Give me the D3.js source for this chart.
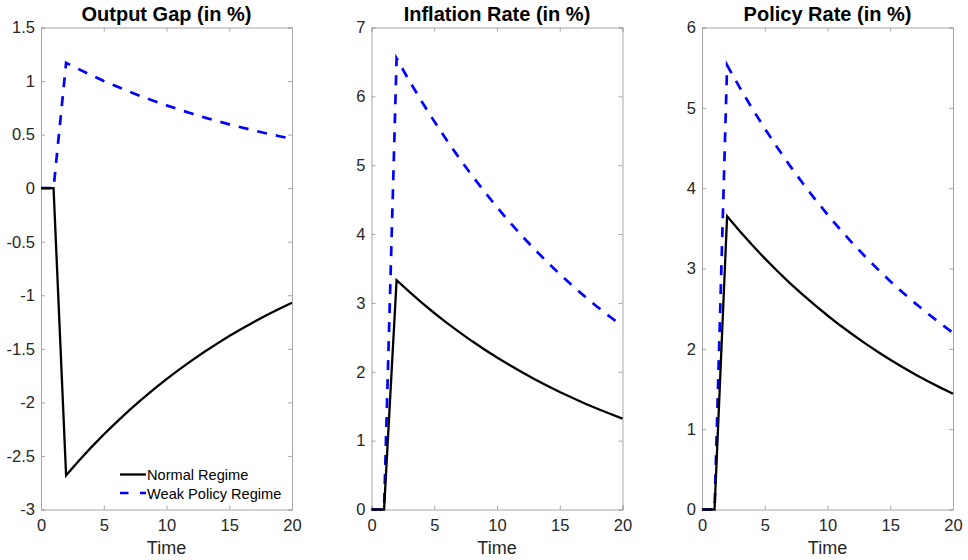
<!DOCTYPE html>
<html><head><meta charset="utf-8">
<script src="https://cdn.jsdelivr.net/npm/d3@7"></script>
<style>body{margin:0;background:#fff}svg{display:block}</style>
</head><body>
<script>
const time = d3.range(0, 21);
const panelTitles = ["Output Gap (in %)", "Inflation Rate (in %)", "Policy Rate (in %)"];
const seriesNames = ["Normal Regime", "Weak Policy Regime"];
const xTicks = [0, 5, 10, 15, 20];
const yTicks1 = [1.5, 1, 0.5, 0, -0.5, -1, -1.5, -2, -2.5, -3];
const yTicks2 = [0, 1, 2, 3, 4, 5, 6, 7];
const yTicks3 = [0, 1, 2, 3, 4, 5, 6];

const gapNormal = [0, 0, -2.680, -2.547, -2.420, -2.300, -2.186, -2.077, -1.974, -1.876, -1.783, -1.694, -1.610, -1.530, -1.454, -1.381, -1.313, -1.247, -1.185, -1.126, -1.070];
const gapWeak = [0, 0, 1.170, 1.111, 1.055, 1.001, 0.951, 0.903, 0.857, 0.814, 0.773, 0.734, 0.697, 0.661, 0.628, 0.596, 0.566, 0.538, 0.510, 0.485, 0.460];
const inflNormal = [0, 0, 3.330, 3.163, 3.005, 2.854, 2.711, 2.575, 2.446, 2.324, 2.207, 2.097, 1.992, 1.892, 1.797, 1.707, 1.622, 1.540, 1.463, 1.390, 1.320];
const inflWeak = [0, 0, 6.550, 6.230, 5.926, 5.637, 5.362, 5.101, 4.852, 4.615, 4.390, 4.176, 3.972, 3.778, 3.594, 3.419, 3.252, 3.093, 2.942, 2.799, 2.662];
const rateNormal = [0, 0, 3.650, 3.466, 3.292, 3.126, 2.969, 2.819, 2.677, 2.543, 2.415, 2.293, 2.178, 2.068, 1.964, 1.865, 1.771, 1.682, 1.597, 1.517, 1.440];
const rateWeak = [0, 0, 5.530, 5.254, 4.992, 4.743, 4.506, 4.281, 4.067, 3.864, 3.671, 3.488, 3.314, 3.149, 2.992, 2.842, 2.700, 2.566, 2.438, 2.316, 2.200];

const panels = [
  {title: panelTitles[0], domain: [-3, 1.5], ticks: yTicks1, normal: gapNormal, weak: gapWeak, left: 41, legend: true},
  {title: panelTitles[1], domain: [0, 7], ticks: yTicks2, normal: inflNormal, weak: inflWeak, left: 371.5, legend: false},
  {title: panelTitles[2], domain: [0, 6], ticks: yTicks3, normal: rateNormal, weak: rateWeak, left: 702, legend: false}
];

const W = 968, H = 560;
const pw = 251, plotTop = 27.5, plotBottom = 509.5;
const font = "'Liberation Sans', Arial, sans-serif";
const axisColor = "#a6a6a6", textColor = "#262626";

const svg = d3.select("body").append("svg").attr("width", W).attr("height", H)
  .style("font-family", font);

panels.forEach(p => {
  const x = d3.scaleLinear().domain([0, 20]).range([p.left, p.left + pw]);
  const y = d3.scaleLinear().domain(p.domain).range([plotBottom, plotTop]);
  const g = svg.append("g");

  const fmt = d => String(d);
  const ax = g.append("g").attr("transform", `translate(0,${plotBottom})`)
    .call(d3.axisBottom(x).tickValues(xTicks).tickSize(-4).tickPadding(9.5).tickFormat(fmt));
  const at = g.append("g").attr("transform", `translate(0,${plotTop})`)
    .call(d3.axisTop(x).tickValues(xTicks).tickSize(-4).tickFormat(""));
  const ay = g.append("g").attr("transform", `translate(${p.left},0)`)
    .call(d3.axisLeft(y).tickValues(p.ticks).tickSize(-4).tickPadding(6).tickFormat(fmt));
  const ar = g.append("g").attr("transform", `translate(${p.left + pw},0)`)
    .call(d3.axisRight(y).tickValues(p.ticks).tickSize(-4).tickFormat(""));
  [ax, at, ay, ar].forEach(a => {
    a.selectAll("path.domain").attr("stroke", axisColor).attr("stroke-width", 1);
    a.selectAll(".tick line").attr("stroke", axisColor);
    a.selectAll(".tick text").attr("fill", textColor).style("font-size", "16.5px").style("font-family", font);
  });

  g.append("text").attr("x", p.left + pw / 2).attr("y", 21).attr("text-anchor", "middle")
    .style("font-size", "20px").style("font-weight", "bold").attr("fill", "#000").text(p.title);
  g.append("text").attr("x", p.left + pw / 2).attr("y", 554).attr("text-anchor", "middle")
    .style("font-size", "18px").attr("fill", textColor).text("Time");

  const line = d3.line().x((d, i) => x(time[i])).y(d => y(d));
  g.append("path").datum(p.weak).attr("d", line).attr("fill", "none")
    .attr("stroke", "#0000ff").attr("stroke-width", 2.7).attr("stroke-dasharray", "10,9");
  g.append("path").datum(p.normal).attr("d", line).attr("fill", "none")
    .attr("stroke", "#000").attr("stroke-width", 2.3);

  if (p.legend) {
    const lg = g.append("g");
    const styles = [{c: "#000", d: null, w: 2.3}, {c: "#0000ff", d: "8.5,11.5", w: 2.7}];
    seriesNames.forEach((n, i) => {
      const yy = 474.5 + i * 18.5;
      lg.append("line").attr("x1", 120).attr("x2", 146).attr("y1", yy).attr("y2", yy)
        .attr("stroke", styles[i].c).attr("stroke-width", styles[i].w)
        .attr("stroke-dasharray", styles[i].d);
      lg.append("text").attr("x", 147).attr("y", yy + 5.5).style("font-size", "14.6px")
        .attr("fill", "#000").text(n);
    });
  }
});
</script>
</body></html>
